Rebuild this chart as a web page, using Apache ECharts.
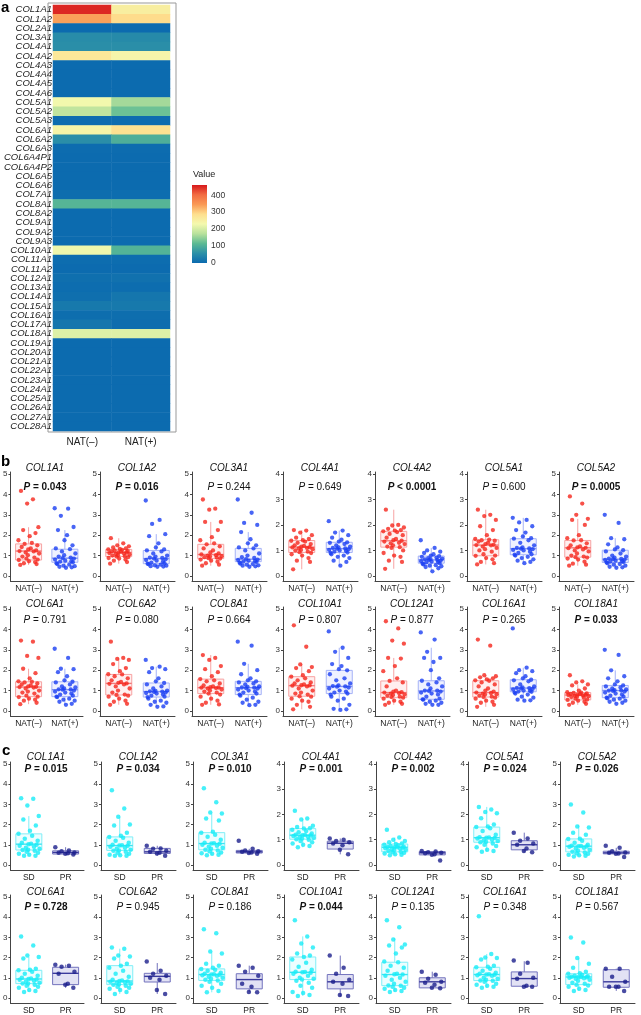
<!DOCTYPE html>
<html>
<head>
<meta charset="utf-8">
<script src="https://cdn.jsdelivr.net/npm/echarts@6/dist/echarts.min.js"></script>
<style>
html,body{margin:0;padding:0;background:#fff}
#chart{width:641px;height:1015px}
</style>
</head>
<body>
<div id="chart"></div>
<script>
// ---- panel a : heatmap ----
var heatGenes = ['COL1A1','COL1A2','COL2A1','COL3A1','COL4A1','COL4A2','COL4A3','COL4A4','COL4A5','COL4A6',
  'COL5A1','COL5A2','COL5A3','COL6A1','COL6A2','COL6A3','COL6A4P1','COL6A4P2','COL6A5','COL6A6',
  'COL7A1','COL8A1','COL8A2','COL9A1','COL9A2','COL9A3','COL10A1','COL11A1','COL11A2','COL12A1',
  'COL13A1','COL14A1','COL15A1','COL16A1','COL17A1','COL18A1','COL19A1','COL20A1','COL21A1','COL22A1',
  'COL23A1','COL24A1','COL25A1','COL26A1','COL27A1','COL28A1'];
var heatGroups = ['NAT(\u2013)', 'NAT(+)'];
var heatNeg = [450,340,2,52,55,268,1,1,1,1, 228,180,3,242,55,3,1,1,1,1, 5,108,1,1,1,2,225,4,2,8, 4,8,22,6,18,208,1,1,1,1, 1,1,1,1,1,1];
var heatPos = [255,290,2,48,55,238,1,1,1,1, 160,125,3,282,98,3,1,1,1,1, 4,108,1,1,1,2,105,4,2,10, 4,18,22,6,5,208,1,1,1,1, 1,1,1,1,1,1];
var heatTicks = [0,100,200,300,400];
var heatColors = ['#0b6aaf','#2b90a8','#5cba93','#b8e19c','#f4f9ae','#fedf8e','#fa9a55','#f26c42','#d7191c'];

// ---- panel b : NAT(-) vs NAT(+) ----
var bGenes = ['COL1A1','COL1A2','COL3A1','COL4A1','COL4A2','COL5A1','COL5A2',
  'COL6A1','COL6A2','COL8A1','COL10A1','COL12A1','COL16A1','COL18A1'];
var bPText = ['= 0.043','= 0.016','= 0.244','= 0.649','< 0.0001','= 0.600','= 0.0005',
  '= 0.791','= 0.080','= 0.664','= 0.807','= 0.877','= 0.265','= 0.033'];
var bSig = [1,1,0,0,1,0,1, 0,0,0,0,0,0,1];
var bYMax = [5,5,5,4,4,4,5, 5,5,5,5,5,5,5];
var bGroups = ['NAT(\u2013)', 'NAT(+)'];
// [lower whisker, Q1, median, Q3, upper whisker]
var bBoxNeg = [[0.54,0.78,1.22,1.57,2.39],[0.60,0.95,1.15,1.30,1.85],[0.50,0.85,1.05,1.55,2.65],[0.26,0.92,1.13,1.39,1.80],
  [0.28,1.13,1.38,1.75,2.60],[0.45,0.79,1.21,1.42,2.60],[0.50,0.92,1.38,1.74,2.80],[0.33,0.70,1.17,1.43,2.07],
  [0.30,0.78,1.35,1.79,2.60],[0.30,0.85,1.14,1.56,2.74],[0.08,0.72,1.24,1.68,2.28],[0.30,0.65,0.90,1.47,2.60],
  [0.20,0.68,0.90,1.48,1.75],[0.30,0.54,0.78,0.90,1.30]];
var bBoxPos = [[0.40,0.67,0.87,1.31,2.25],[0.45,0.60,0.85,1.25,2.05],[0.45,0.70,0.82,1.35,2.15],[0.40,0.92,1.07,1.32,1.78],
  [0.18,0.50,0.63,0.78,1.10],[0.50,0.83,1.07,1.46,2.28],[0.40,0.66,0.82,1.26,1.85],[0.30,0.70,1.04,1.43,2.07],
  [0.20,0.68,0.95,1.37,2.17],[0.28,0.80,1.14,1.45,2.31],[0.05,0.85,1.20,1.99,3.10],[0.30,0.57,0.98,1.48,3.10],
  [0.50,0.94,1.12,1.53,2.12],[0.35,0.65,1.00,1.25,1.99]];
var bPtsNeg = [
  [4.17,3.76,3.55,2.39,2.25,2.1,1.95,1.75,1.62,1.57,1.5,1.42,1.35,1.3,1.25,1.22,1.2,1.15,1.1,1.02,0.95,0.9,0.85,0.8,0.78,0.72,0.68,0.62,0.58,0.54],
  [1.85,1.6,1.5,1.45,1.4,1.35,1.32,1.3,1.28,1.25,1.22,1.2,1.18,1.15,1.15,1.12,1.1,1.08,1.05,1.02,1.0,0.97,0.95,0.92,0.88,0.85,0.8,0.75,0.68,0.6],
  [3.75,3.3,3.25,2.65,2.65,2.25,1.9,1.75,1.6,1.55,1.45,1.35,1.25,1.15,1.1,1.05,1.02,1.0,0.97,0.95,0.92,0.9,0.87,0.85,0.8,0.75,0.7,0.62,0.55,0.5],
  [1.8,1.78,1.7,1.6,1.5,1.45,1.4,1.38,1.35,1.3,1.25,1.2,1.18,1.15,1.13,1.12,1.1,1.08,1.05,1.02,1.0,0.95,0.93,0.9,0.85,0.8,0.7,0.6,0.55,0.26],
  [2.6,2.0,1.98,1.9,1.85,1.8,1.78,1.75,1.72,1.65,1.6,1.5,1.45,1.4,1.38,1.35,1.3,1.28,1.25,1.2,1.15,1.13,1.1,1.0,0.9,0.8,0.75,0.6,0.55,0.28],
  [2.6,2.4,2.35,2.2,1.95,1.8,1.6,1.45,1.42,1.4,1.38,1.35,1.3,1.25,1.22,1.21,1.2,1.15,1.1,1.05,1.0,0.95,0.85,0.8,0.79,0.7,0.65,0.55,0.5,0.45],
  [3.9,3.55,3.0,2.8,2.75,2.5,2.0,1.85,1.75,1.74,1.6,1.5,1.45,1.4,1.38,1.36,1.3,1.25,1.2,1.1,1.0,0.95,0.92,0.9,0.85,0.8,0.7,0.6,0.55,0.5],
  [3.45,3.4,2.7,2.6,2.07,1.85,1.6,1.45,1.43,1.4,1.35,1.3,1.25,1.2,1.18,1.17,1.15,1.1,1.0,0.95,0.9,0.85,0.75,0.7,0.68,0.6,0.55,0.5,0.4,0.33],
  [3.4,2.6,2.55,2.5,2.3,2.1,1.95,1.8,1.79,1.7,1.6,1.5,1.42,1.38,1.35,1.33,1.3,1.2,1.1,1.0,0.9,0.8,0.78,0.75,0.7,0.6,0.5,0.45,0.35,0.3],
  [2.74,2.6,2.5,2.2,2.05,1.9,1.7,1.56,1.5,1.45,1.35,1.25,1.2,1.16,1.15,1.14,1.12,1.1,1.05,1.0,0.95,0.9,0.85,0.8,0.7,0.6,0.5,0.4,0.32,0.3],
  [4.2,3.15,2.28,2.15,2.1,1.95,1.75,1.68,1.6,1.5,1.4,1.35,1.3,1.26,1.25,1.24,1.2,1.1,1.0,0.9,0.85,0.8,0.72,0.7,0.6,0.5,0.45,0.3,0.2,0.08],
  [4.4,4.05,3.45,3.3,2.6,2.57,2.2,1.95,1.6,1.47,1.4,1.2,1.0,0.95,0.92,0.9,0.88,0.85,0.8,0.78,0.75,0.7,0.68,0.65,0.6,0.5,0.45,0.4,0.35,0.3],
  [3.5,3.2,1.75,1.7,1.65,1.6,1.55,1.5,1.48,1.4,1.3,1.2,1.1,1.0,0.95,0.9,0.88,0.85,0.82,0.8,0.75,0.7,0.68,0.65,0.6,0.5,0.45,0.4,0.3,0.2],
  [1.75,1.45,1.4,1.3,1.25,1.1,1.0,0.92,0.9,0.88,0.86,0.84,0.82,0.8,0.79,0.78,0.76,0.74,0.72,0.7,0.68,0.65,0.6,0.56,0.54,0.5,0.45,0.4,0.35,0.3]];
var bPtsPos = [
  [3.32,3.3,2.95,2.4,2.25,2.0,1.75,1.5,1.35,1.31,1.2,1.1,1.02,0.95,0.9,0.87,0.85,0.8,0.75,0.72,0.7,0.67,0.62,0.58,0.55,0.5,0.48,0.45,0.42,0.4],
  [3.7,2.75,2.55,2.05,1.95,1.6,1.4,1.3,1.25,1.2,1.1,1.0,0.95,0.9,0.88,0.85,0.82,0.78,0.75,0.7,0.65,0.62,0.6,0.58,0.55,0.52,0.5,0.48,0.46,0.45],
  [3.75,3.1,2.6,2.5,2.15,1.8,1.6,1.5,1.4,1.35,1.25,1.1,1.0,0.92,0.88,0.82,0.8,0.78,0.75,0.72,0.7,0.68,0.65,0.6,0.58,0.55,0.52,0.5,0.47,0.45],
  [2.15,1.78,1.7,1.6,1.5,1.42,1.35,1.32,1.3,1.25,1.2,1.15,1.12,1.1,1.08,1.07,1.05,1.02,1.0,0.98,0.95,0.92,0.9,0.85,0.8,0.75,0.7,0.6,0.55,0.4],
  [1.4,1.1,1.0,0.95,0.9,0.85,0.8,0.78,0.75,0.72,0.7,0.68,0.66,0.65,0.63,0.62,0.6,0.58,0.56,0.55,0.53,0.5,0.48,0.45,0.42,0.4,0.38,0.35,0.3,0.18],
  [2.28,2.2,2.1,1.95,1.8,1.7,1.55,1.48,1.46,1.4,1.3,1.2,1.12,1.1,1.08,1.07,1.05,1.02,1.0,0.95,0.9,0.85,0.83,0.8,0.75,0.7,0.65,0.6,0.55,0.5],
  [3.0,2.6,1.85,1.8,1.55,1.4,1.3,1.26,1.2,1.1,1.0,0.95,0.9,0.85,0.83,0.82,0.8,0.78,0.75,0.72,0.7,0.68,0.66,0.62,0.58,0.55,0.5,0.45,0.42,0.4],
  [3.05,2.6,2.07,2.05,1.9,1.7,1.5,1.43,1.4,1.3,1.2,1.15,1.1,1.06,1.05,1.04,1.0,0.95,0.9,0.85,0.8,0.75,0.7,0.68,0.6,0.55,0.5,0.45,0.35,0.3],
  [2.5,2.17,2.1,2.05,1.9,1.6,1.45,1.37,1.3,1.2,1.1,1.0,0.98,0.96,0.95,0.93,0.9,0.88,0.85,0.8,0.75,0.7,0.68,0.6,0.5,0.45,0.4,0.3,0.22,0.2],
  [3.4,3.2,2.31,2.0,1.8,1.6,1.5,1.45,1.4,1.35,1.3,1.2,1.18,1.15,1.14,1.12,1.1,1.05,1.0,0.95,0.9,0.85,0.8,0.75,0.65,0.55,0.45,0.4,0.3,0.28],
  [3.9,3.1,2.9,2.6,2.3,2.2,2.05,1.99,1.8,1.6,1.5,1.35,1.25,1.22,1.2,1.19,1.15,1.1,1.0,0.95,0.9,0.85,0.8,0.7,0.6,0.5,0.3,0.1,0.08,0.05],
  [3.85,3.5,2.9,2.6,2.6,2.4,2.0,1.6,1.48,1.4,1.3,1.2,1.1,1.0,0.99,0.98,0.95,0.9,0.85,0.8,0.7,0.6,0.57,0.55,0.5,0.45,0.4,0.35,0.3,0.3],
  [4.05,2.12,2.0,1.95,1.85,1.7,1.6,1.53,1.5,1.45,1.3,1.2,1.15,1.13,1.12,1.1,1.08,1.05,1.0,0.98,0.95,0.94,0.9,0.85,0.8,0.7,0.65,0.55,0.52,0.5],
  [3.0,2.75,1.99,1.7,1.6,1.45,1.3,1.25,1.2,1.15,1.1,1.05,1.02,1.0,1.0,0.98,0.95,0.9,0.85,0.8,0.75,0.7,0.65,0.62,0.6,0.55,0.5,0.45,0.4,0.35]];

// ---- panel c : SD vs PR ----
var cGenes = bGenes.slice();
var cPText = ['= 0.015','= 0.034','= 0.010','= 0.001','= 0.002','= 0.024','= 0.026',
  '= 0.728','= 0.945','= 0.186','= 0.044','= 0.135','= 0.348','= 0.567'];
var cSig = [1,1,1,1,1,1,1, 1,0,0,1,0,0,0];
var cYMax = [5,5,5,4,4,4,5, 5,5,5,5,5,5,5];
var cGroups = ['SD', 'PR'];
var cBoxSD = [[0.45,0.74,1.03,1.54,2.42],[0.45,0.72,0.96,1.39,2.39],[0.48,0.75,1.06,1.60,2.55],[0.70,1.02,1.18,1.44,1.84],
  [0.38,0.52,0.70,0.83,1.09],[0.52,0.90,1.08,1.50,2.30],[0.42,0.65,0.93,1.29,1.99],[0.30,0.71,0.94,1.37,2.03],
  [0.20,0.66,0.84,1.60,2.44],[0.28,0.87,1.16,1.44,2.26],[0.10,0.91,1.27,2.03,3.05],[0.30,0.61,1.16,1.77,2.97],
  [0.50,0.86,1.16,1.52,2.18],[0.35,0.66,1.04,1.20,1.98]];
var cBoxPR = [[0.52,0.54,0.62,0.70,0.88],[0.45,0.57,0.65,0.82,0.95],[0.55,0.59,0.65,0.72,0.80],[0.42,0.63,0.86,0.94,1.05],
  [0.40,0.40,0.48,0.53,0.55],[0.50,0.60,0.80,0.96,1.28],[0.55,0.55,0.60,0.68,0.85],[0.50,0.66,1.22,1.52,1.65],
  [0.20,0.79,1.07,1.22,1.73],[0.28,0.45,0.91,1.20,1.60],[0.07,0.45,0.80,1.16,2.10],[0.48,0.50,0.80,1.00,1.30],
  [0.55,0.58,0.96,1.29,1.82],[0.35,0.53,0.80,1.40,1.45]];
var cPtsSD = [
  [3.3,3.28,2.95,2.42,2.25,1.95,1.7,1.54,1.45,1.3,1.2,1.1,1.05,1.03,1.0,0.95,0.9,0.85,0.8,0.75,0.74,0.7,0.65,0.6,0.55,0.5,0.45,0.45],
  [3.7,2.8,2.39,2.0,1.95,1.6,1.45,1.39,1.35,1.2,1.1,1.0,0.97,0.96,0.95,0.9,0.85,0.8,0.75,0.72,0.7,0.65,0.6,0.55,0.5,0.48,0.45,0.45],
  [3.8,3.1,2.6,2.55,2.3,2.2,1.65,1.6,1.5,1.4,1.25,1.1,1.07,1.06,1.05,1.0,0.95,0.9,0.85,0.8,0.75,0.72,0.68,0.62,0.58,0.55,0.5,0.48],
  [2.15,1.84,1.8,1.55,1.5,1.45,1.44,1.4,1.35,1.3,1.25,1.2,1.19,1.18,1.17,1.15,1.12,1.1,1.08,1.05,1.02,1.0,0.95,0.9,0.85,0.8,0.75,0.7],
  [1.4,1.09,1.0,0.95,0.9,0.85,0.83,0.8,0.78,0.75,0.72,0.71,0.7,0.7,0.68,0.66,0.65,0.62,0.6,0.58,0.55,0.52,0.5,0.48,0.45,0.42,0.4,0.38],
  [2.3,2.2,2.1,2.05,1.85,1.6,1.52,1.5,1.45,1.35,1.2,1.1,1.09,1.08,1.07,1.05,1.0,0.98,0.95,0.92,0.9,0.85,0.8,0.75,0.7,0.6,0.55,0.52],
  [3.0,2.6,1.9,1.85,1.6,1.5,1.3,1.29,1.2,1.1,1.0,0.95,0.94,0.93,0.92,0.9,0.85,0.8,0.75,0.7,0.65,0.62,0.58,0.55,0.5,0.48,0.45,0.42],
  [3.05,2.6,2.1,2.03,1.95,1.45,1.4,1.37,1.3,1.2,1.1,1.0,0.96,0.94,0.92,0.9,0.85,0.8,0.75,0.72,0.71,0.65,0.6,0.55,0.5,0.4,0.35,0.3],
  [2.5,2.44,2.1,2.05,1.95,1.7,1.6,1.5,1.35,1.2,1.05,0.9,0.86,0.84,0.82,0.8,0.78,0.75,0.7,0.68,0.66,0.6,0.55,0.5,0.45,0.4,0.3,0.2],
  [3.4,3.2,2.3,2.2,1.7,1.6,1.5,1.44,1.4,1.35,1.25,1.2,1.17,1.16,1.15,1.12,1.1,1.05,1.0,0.95,0.9,0.87,0.8,0.7,0.6,0.5,0.35,0.28],
  [3.85,3.05,2.7,2.5,2.2,2.1,2.03,1.9,1.75,1.55,1.4,1.3,1.28,1.27,1.25,1.2,1.1,1.0,0.95,0.91,0.85,0.75,0.6,0.5,0.3,0.25,0.15,0.1],
  [3.85,3.5,2.9,2.65,2.6,2.5,2.2,1.8,1.77,1.6,1.5,1.35,1.2,1.17,1.16,1.1,1.0,0.9,0.8,0.7,0.62,0.61,0.55,0.5,0.45,0.4,0.35,0.3],
  [4.05,2.18,2.0,1.98,1.9,1.6,1.55,1.52,1.45,1.35,1.25,1.2,1.17,1.16,1.15,1.12,1.1,1.0,0.95,0.9,0.86,0.85,0.8,0.7,0.65,0.6,0.55,0.5],
  [3.0,2.75,1.98,1.7,1.5,1.3,1.22,1.2,1.15,1.1,1.08,1.05,1.04,1.04,1.02,1.0,0.98,0.95,0.9,0.85,0.75,0.7,0.66,0.62,0.55,0.45,0.4,0.35]];
var cPtsPR = [
  [0.88,0.72,0.68,0.62,0.6,0.58,0.55,0.52],[0.95,0.82,0.8,0.7,0.65,0.6,0.57,0.45],[1.2,0.8,0.72,0.68,0.65,0.62,0.59,0.55],
  [1.05,1.0,0.95,0.9,0.85,0.78,0.6,0.42],[0.55,0.53,0.5,0.48,0.46,0.42,0.4,0.18],[1.28,1.05,0.96,0.85,0.8,0.65,0.55,0.5],
  [0.95,0.85,0.68,0.62,0.6,0.57,0.55,0.4],[1.65,1.6,1.55,1.3,1.2,0.7,0.65,0.5],[1.8,1.35,1.2,1.1,1.0,0.9,0.4,0.2],
  [1.6,1.5,1.3,1.1,0.7,0.55,0.3,0.28],[2.1,1.5,1.2,0.9,0.8,0.7,0.15,0.1],[1.3,1.15,0.95,0.8,0.75,0.65,0.5,0.48],
  [1.85,1.75,1.2,1.0,0.95,0.6,0.55,0.55],[1.45,1.45,1.05,0.8,0.55,0.55,0.55,0.35]];

var ticks5 = [0,1,2,3,4,5];
var ticks4 = [0,1,2,3,4];

// horizontal spread of jittered points (category units)
var jitter = [-0.21,0.12,-0.04,0.27,-0.15,0.19,0.03,-0.28,0.09,-0.11,0.24,-0.19,0.06,-0.01,0.21,
  -0.25,0.14,-0.08,0.29,-0.02,-0.17,0.16,-0.06,0.25,-0.27,0.01,0.18,-0.13,0.22,-0.23];

var FONT = '"Liberation Sans", Arial, Helvetica, sans-serif';

var chart = echarts.init(document.getElementById('chart'), null, {renderer: 'canvas'});

var option = {
    animation: false,
    backgroundColor: '#fff',
    grid: [],
    xAxis: [],
    yAxis: [],
    series: [],
    graphic: []
};

// heatmap
option.grid.push({left: 53, top: 5, width: 117, height: 426});
option.xAxis.push({
    type: 'category', gridIndex: 0, data: heatGroups,
    axisLine: {show: false}, axisTick: {show: false}, splitLine: {show: false},
    axisLabel: {margin: 6, fontSize: 10, color: '#222', fontFamily: FONT}
});
option.yAxis.push({
    type: 'category', gridIndex: 0, data: heatGenes, inverse: true,
    axisLine: {show: false}, axisTick: {show: false}, splitLine: {show: false},
    axisLabel: {margin: 1, interval: 0, fontSize: 9.5, fontStyle: 'italic', color: '#222', fontFamily: FONT}
});
var heatData = [];
for (var i = 0; i < heatGenes.length; i++) {
    heatData.push([0, i, heatNeg[i]]);
    heatData.push([1, i, heatPos[i]]);
}
option.series.push({
    type: 'heatmap', xAxisIndex: 0, yAxisIndex: 0, data: heatData,
    itemStyle: {borderWidth: 0}, emphasis: {disabled: true}, silent: true
});
option.visualMap = {
    type: 'continuous', show: false, min: 0, max: 460, dimension: 2, seriesIndex: 0,
    inRange: {color: heatColors}
};

// colour bar legend (axis only gives the labels)
option.grid.push({left: 192, top: 185, width: 15, height: 78});
option.xAxis.push({type: 'value', gridIndex: 1, show: false, min: 0, max: 1});
option.yAxis.push({
    type: 'value', gridIndex: 1, min: 0, max: 460, position: 'right',
    axisLine: {show: false}, splitLine: {show: false},
    axisTick: {show: true, inside: true, length: 3, customValues: heatTicks, lineStyle: {color: '#fff'}},
    axisLabel: {customValues: heatTicks, fontSize: 8.5, color: '#333', margin: 4, fontFamily: FONT}
});
var stops = [];
for (var s = 0; s < heatColors.length; s++) {
    stops.push({offset: s / (heatColors.length - 1), color: heatColors[s]});
}
option.graphic.push({
    type: 'rect', z: -10, shape: {x: 192, y: 185, width: 15, height: 78},
    style: {fill: new echarts.graphic.LinearGradient(0, 1, 0, 0, stops)}
});
option.graphic.push({
    type: 'text', x: 193, y: 170,
    style: {text: 'Value', fontSize: 9, fontFamily: FONT, fill: '#222'}
});
option.graphic.push({
    type: 'rect', shape: {x: 48, y: 3, width: 128, height: 429},
    style: {fill: 'none', stroke: '#999', lineWidth: 1}
});

// panel letters
[['a', 1, 0], ['b', 1, 454], ['c', 2, 743]].forEach(function (p) {
    option.graphic.push({
        type: 'text', x: p[1], y: p[2],
        style: {text: p[0], fontSize: 15, fontWeight: 'bold', fontFamily: FONT, fill: '#000'}
    });
});

// ggplot-like box: no whisker caps, thicker median
function boxRenderer(styles) {
    return function (params, api) {
        var st = styles[params.dataIndex];
        var x = api.value(0);
        var lo = api.coord([x, api.value(1)]);
        var q1 = api.coord([x, api.value(2)]);
        var md = api.coord([x, api.value(3)]);
        var q3 = api.coord([x, api.value(4)]);
        var hi = api.coord([x, api.value(5)]);
        var hw = 13;
        return {
            type: 'group',
            children: [
                {type: 'line', shape: {x1: lo[0], y1: lo[1], x2: q1[0], y2: q1[1]}, style: {stroke: st.line, lineWidth: 1}},
                {type: 'line', shape: {x1: q3[0], y1: q3[1], x2: hi[0], y2: hi[1]}, style: {stroke: st.line, lineWidth: 1}},
                {type: 'rect', shape: {x: q3[0] - hw, y: q3[1], width: hw * 2, height: q1[1] - q3[1]},
                    style: {fill: st.fill, stroke: st.line, lineWidth: 1}},
                {type: 'line', shape: {x1: md[0] - hw, y1: md[1], x2: md[0] + hw, y2: md[1]}, style: {stroke: st.med, lineWidth: 1.4}}
            ]
        };
    };
}

function addPanel(o) {
    var g = option.grid.length;
    option.grid.push({left: o.left, top: o.top, width: 75, height: o.height});
    var xi = option.xAxis.length;
    option.xAxis.push({
        type: 'category', gridIndex: g, data: o.groups, boundaryGap: true,
        axisLine: {onZero: false, lineStyle: {color: '#444', width: 1}},
        axisTick: {alignWithLabel: true, length: 2, lineStyle: {color: '#444'}},
        axisLabel: {margin: 3, fontSize: 8.5, color: '#222', fontFamily: FONT},
        splitLine: {show: false}
    });
    option.xAxis.push({type: 'value', gridIndex: g, min: -0.5, max: 1.5, show: false});
    var yi = option.yAxis.length;
    var ticks = o.ymax === 4 ? ticks4 : ticks5;
    option.yAxis.push({
        type: 'value', gridIndex: g, min: -0.05 * o.ymax, max: 1.02 * o.ymax,
        axisLine: {show: true, onZero: false, lineStyle: {color: '#444', width: 1}},
        axisTick: {show: true, length: 2, customValues: ticks, lineStyle: {color: '#444'}},
        axisLabel: {customValues: ticks, fontSize: 8, color: '#333', margin: 3, fontFamily: FONT},
        splitLine: {show: false}
    });
    option.series.push({
        type: 'custom', xAxisIndex: xi + 1, yAxisIndex: yi, silent: true,
        renderItem: boxRenderer([o.styleA, o.styleB]),
        encode: {x: 0, y: [1, 2, 3, 4, 5]},
        data: [[0].concat(o.boxA), [1].concat(o.boxB)]
    });
    option.series.push({
        type: 'scatter', xAxisIndex: xi + 1, yAxisIndex: yi, symbolSize: o.dot, silent: true,
        itemStyle: {color: o.colA},
        data: o.ptsA.map(function (v, k) { return [jitter[k % jitter.length], v]; })
    });
    option.series.push({
        type: 'scatter', xAxisIndex: xi + 1, yAxisIndex: yi, symbolSize: o.dot, silent: true,
        itemStyle: {color: o.colB},
        data: o.ptsB.map(function (v, k) { return [1 + jitter[(k + 7) % jitter.length], v]; })
    });
    var cx = o.left + 37;
    option.graphic.push({
        type: 'text', x: cx, y: o.titleY,
        style: {text: o.gene, fontSize: 10, fontStyle: 'italic', fontFamily: FONT, fill: '#111',
            align: 'center', verticalAlign: 'middle'}
    });
    var w = o.sig ? 'bold' : 'normal';
    option.graphic.push({
        type: 'text', x: cx, y: o.pY,
        style: {
            text: '{i|P} ' + o.p, fontSize: 10, fontWeight: w, fontFamily: FONT, fill: '#111',
            align: 'center', verticalAlign: 'middle',
            rich: {i: {fontStyle: 'italic', fontWeight: w, fontSize: 10, fontFamily: FONT, fill: '#111'}}
        }
    });
}

var rowsB = [{top: 472, height: 109, titleY: 468, pY: 487}, {top: 607, height: 109, titleY: 604, pY: 620}];
var rowsC = [{top: 762, height: 108, titleY: 757, pY: 769}, {top: 895, height: 108, titleY: 892, pY: 907}];

var styleNeg = {fill: 'rgba(255,190,190,0.25)', line: '#f7a3a3', med: '#f47a7a'};
var stylePos = {fill: 'rgba(190,200,255,0.25)', line: '#a5b2f7', med: '#7f90f2'};
var styleSD = {fill: 'rgba(180,250,255,0.25)', line: '#80eef7', med: '#3fe4f2'};
var stylePR = {fill: 'rgba(140,140,210,0.25)', line: '#7373bd', med: '#3a3a9c'};

for (var k = 0; k < 14; k++) {
    var col = k % 7, row = Math.floor(k / 7);
    addPanel({
        left: Math.round(8 + 91.8 * col), top: rowsB[row].top, height: rowsB[row].height,
        titleY: rowsB[row].titleY, pY: rowsB[row].pY,
        gene: bGenes[k], p: bPText[k], sig: bSig[k], ymax: bYMax[k], groups: bGroups,
        boxA: bBoxNeg[k], boxB: bBoxPos[k], ptsA: bPtsNeg[k], ptsB: bPtsPos[k],
        colA: '#f5261c', colB: '#1a3ef2', dot: 4.3,
        styleA: styleNeg, styleB: stylePos
    });
}
for (var k2 = 0; k2 < 14; k2++) {
    var col2 = k2 % 7, row2 = Math.floor(k2 / 7);
    addPanel({
        left: Math.round(9 + 91.8 * col2), top: rowsC[row2].top, height: rowsC[row2].height,
        titleY: rowsC[row2].titleY, pY: rowsC[row2].pY,
        gene: cGenes[k2], p: cPText[k2], sig: cSig[k2], ymax: cYMax[k2], groups: cGroups,
        boxA: cBoxSD[k2], boxB: cBoxPR[k2], ptsA: cPtsSD[k2], ptsB: cPtsPR[k2],
        colA: '#18ecf7', colB: '#1c1f8c', dot: 4.5,
        styleA: styleSD, styleB: stylePR
    });
}

chart.setOption(option);
</script>
</body>
</html>
